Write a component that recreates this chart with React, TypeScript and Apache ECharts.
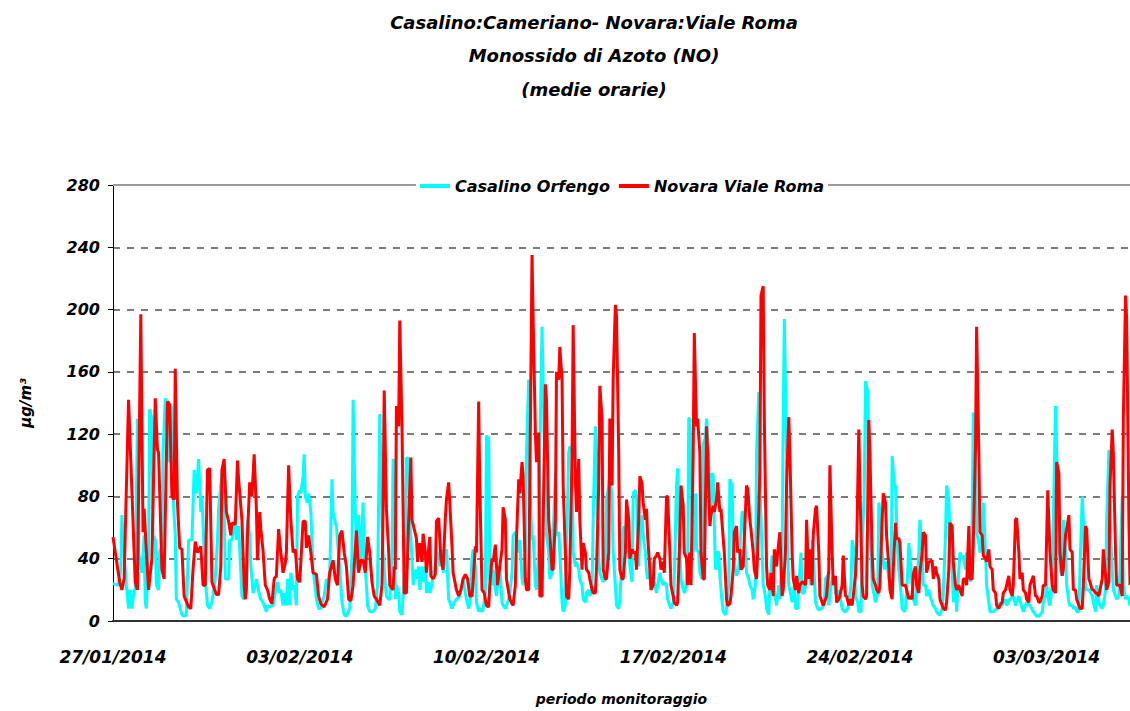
import React, { useEffect, useRef } from "react";
import * as echarts from "echarts";

const START_UTC = Date.UTC(2014, 0, 27);
const X_END_HOURS = 915;
const X_STEP_HOURS = 168;
const Y_MIN = 0;
const Y_MAX = 280;
const Y_STEP = 40;

const titleLines = [
  "Casalino:Cameriano- Novara:Viale Roma",
  "Monossido di Azoto (NO)",
  "(medie orarie)",
];
const xAxisName = "periodo monitoraggio";
const yAxisName = "µg/m³";
const seriesNames = ["Casalino Orfengo", "Novara Viale Roma"];

// [hours since 27/01/2014 00:00, µg/m³]
const casalino: [number, number][] = [
  [0,24],[5,23],[7,33],[8,68],[10,44],[12,23],[14,8],[15,20],[17,8],[19,20],[20,20],[22,130],[23,44],[26,31],[28,55],[29,12],[30,8],[32,44],[33,136],[35,130],[36,55],[38,52],[39,23],[41,20],[42,44],[44,48],[45,108],[47,143],[48,138],[50,102],[53,138],[54,80],[56,55],[57,14],[59,12],[62,4],[64,3],[66,4],[68,52],[71,52],[73,97],[75,82],[77,104],[79,70],[80,80],[83,27],[85,10],[87,8],[89,12],[92,27],[94,52],[95,72],[98,95],[100,76],[101,27],[104,27],[105,52],[107,52],[110,65],[111,52],[113,61],[116,16],[118,14],[119,20],
  [121,65],[123,55],[124,35],[126,18],[127,20],[129,27],[130,23],[132,16],[133,14],[135,12],[136,10],[138,6],[139,10],[141,9],[144,10],[146,18],[148,25],[150,18],[151,20],[153,10],[154,18],[156,10],[157,27],[159,10],[160,31],[162,20],[163,23],[165,10],[166,80],[168,84],[169,82],[171,93],[172,107],[173,80],[175,76],[176,82],[178,70],[180,33],[181,27],[183,14],[185,8],[187,8],[189,14],[190,16],[192,27],[193,23],[195,31],[197,91],[198,70],[200,63],[201,61],[204,33],[206,12],[208,4],[210,3],[213,8],[215,44],[216,142],[218,70],[220,33],[221,68],[223,35],[225,76],[226,44],[228,23],[229,10],[231,6],[234,6],[236,8],[238,23],[240,133],
  [242,65],[243,44],[245,23],[246,16],[248,14],[249,14],[251,44],[252,104],[253,102],[254,14],[255,23],[257,18],[258,6],[260,4],[261,16],[263,44],[264,105],[266,104],[267,65],[269,40],[270,23],[272,33],[273,27],[275,35],[276,20],[278,35],[279,25],[281,35],[282,18],[284,25],[285,18],[287,23],[288,31],[290,35],[291,42],[293,44],[294,35],[296,46],[297,31],[299,44],[300,46],[302,14],[303,12],[305,8],[307,12],[309,14],[312,16],[314,23],[315,27],[317,18],[318,14],[320,8],[321,12],[323,40],[324,46],[326,35],[327,12],[329,6],[330,8],[332,6],[333,8],[335,18],[336,119],[338,117],[339,27],[341,23],[342,33],[344,20],[345,16],[347,31],[348,35],[350,12],[351,10],[353,8],[354,10],[356,14],[357,18],[359,31],
  [360,55],[362,57],[363,55],[365,44],[366,52],[368,27],[369,23],[371,44],[372,108],[374,155],[375,87],[377,52],[378,55],[380,23],[381,20],[383,44],[384,108],[386,189],[387,151],[389,87],[390,55],[392,44],[393,27],[395,31],[396,55],[398,95],[399,55],[401,57],[402,44],[404,12],[405,6],[407,10],[408,44],[410,108],[411,112],[413,108],[414,44],[416,35],[417,38],[419,33],[420,27],[422,23],[423,14],[425,12],[426,18],[428,20],[429,16],[431,20],[432,65],[434,125],[435,108],[437,40],[438,31],[440,27],[441,25],[443,33],[444,78],[446,87],[447,97],[449,78],[450,44],[452,23],[453,10],[455,8],[456,14],[458,40],[459,61],[461,57],[462,55],[464,44],[465,35],[467,25],[468,82],[470,84],[471,80],[473,35],[474,55],[476,68],[477,55],[479,44],
  [480,32],[481,27],[483,31],[484,38],[486,23],[487,25],[489,18],[490,23],[492,31],[493,27],[495,23],[496,25],[498,23],[499,14],[501,10],[502,8],[504,12],[505,27],[507,87],[508,98],[509,65],[511,27],[512,23],[514,18],[515,20],[517,33],[518,130],[519,130],[521,65],[522,44],[524,82],[525,46],[527,44],[528,31],[530,27],[531,114],[533,118],[534,130],[536,104],[537,65],[539,95],[540,93],[542,33],[543,44],[545,44],[546,29],[548,12],[549,6],[551,4],[552,8],[554,23],[555,91],[557,87],[558,44],[560,33],[561,29],[563,33],[564,46],[566,70],[567,70],[569,44],[570,31],[572,27],[573,23],[575,20],[576,14],[578,23],[579,108],[581,147],[582,87],[584,44],[585,23],[587,16],[588,8],[590,4],[591,23],[593,42],[594,23],[596,14],[597,10],[599,23],
  [600,14],[602,44],[603,130],[604,194],[606,108],[607,44],[608,23],[610,16],[611,12],[613,23],[614,8],[616,8],[617,23],[619,44],[620,18],[622,18],[623,23],[625,31],[626,33],[628,23],[629,52],[631,29],[632,12],[634,8],[635,7],[637,8],[638,8],[640,12],[641,27],[643,29],[644,10],[646,23],[647,27],[649,29],[650,18],[652,14],[653,20],[655,12],[656,8],[658,6],[659,6],[661,8],[662,12],[664,23],[665,52],[667,44],[668,16],[670,12],[671,6],[673,6],[674,44],[676,87],[677,154],[679,147],[680,65],[682,44],[683,23],[685,16],[686,12],[688,18],[689,76],[691,65],[692,44],[694,33],[695,38],[697,33],[698,27],[700,23],[701,106],[703,87],[704,87],[706,44],[707,33],[709,18],[710,8],[712,6],[713,8],[715,31],[716,50],[718,33],[719,23],
  [720,14],[722,10],[723,23],[725,44],[726,65],[728,44],[729,23],[731,23],[732,16],[734,20],[735,16],[737,12],[738,10],[740,8],[741,6],[743,4],[744,4],[746,8],[747,18],[749,55],[750,87],[752,78],[753,53],[755,33],[756,12],[758,23],[759,6],[761,33],[762,44],[764,40],[765,42],[767,33],[768,44],[770,33],[771,25],[773,65],[774,134],[776,119],[777,57],[779,50],[780,44],[782,55],[783,76],[785,44],[786,23],[788,12],[789,6],[792,6],[795,8],[798,12],[800,10],[801,12],[803,14],[804,10],[807,14],[810,16],[812,10],[815,16],[818,8],[819,6],[822,12],[825,10],[828,6],[831,3],[833,3],
  [834,4],[836,6],[837,12],[839,16],[840,23],[842,12],[843,10],[845,23],[846,65],[848,138],[849,108],[851,55],[852,33],[854,29],[855,65],[857,44],[858,23],[860,12],[861,10],[863,10],[864,8],[866,9],[867,6],[869,6],[870,33],[872,80],[873,65],[875,20],[878,20],[881,16],[882,12],[884,6],[885,23],[887,12],[888,10],[890,8],[891,10],[893,20],[894,65],[896,110],[897,65],[899,33],[900,20],[902,16],[903,14],[905,16],[906,33],[908,80],[909,23],[911,14],[912,16],[914,14],[915,10],
];

const novara: [number, number][] = [
  [0,54],[6,25],[8,20],[10,27],[14,142],[20,25],[22,20],[25,197],[27,57],[28,72],[30,45],[32,20],[35,40],[38,143],[40,110],[41,108],[44,33],[46,27],[49,141],[51,139],[53,80],[55,78],[56,162],[58,76],[60,47],[62,46],[64,16],[68,9],[70,8],[72,33],[74,51],[76,44],[79,48],[81,23],[83,23],[85,97],[87,98],[89,25],[93,17],[95,17],[97,35],[98,97],[100,104],[102,70],[104,64],[106,55],[107,63],[110,62],[112,103],[113,91],[116,65],[118,23],[119,14],
  [120,20],[121,55],[123,89],[125,80],[127,107],[129,72],[130,39],[132,70],[133,59],[135,45],[137,23],[139,20],[141,14],[143,11],[145,27],[147,29],[149,59],[151,44],[153,31],[155,37],[156,44],[158,100],[160,65],[162,44],[164,46],[166,27],[168,25],[171,64],[173,64],[174,47],[176,55],[178,44],[180,31],[183,30],[185,16],[187,11],[190,9],[193,14],[195,31],[198,39],[200,27],[202,23],[204,55],[206,58],[208,44],[210,35],[212,14],[214,13],[216,23],[219,58],[221,31],[223,39],[225,39],[227,31],[229,54],[231,44],[233,25],[235,16],[237,14],
  [240,10],[242,23],[243,72],[244,148],[246,72],[248,45],[249,23],[252,20],[253,35],[254,33],[255,138],[257,125],[258,193],[260,125],[262,18],[264,18],[266,65],[268,105],[269,65],[271,59],[273,53],[274,38],[276,50],[278,38],[279,56],[281,44],[282,31],[285,54],[286,29],[288,27],[290,30],[291,64],[293,66],[295,40],[297,33],[299,66],[300,78],[302,89],[303,76],[305,48],[306,31],[309,20],[311,16],[313,20],[315,27],[317,30],[319,27],[321,16],[323,16],[324,25],[326,48],[327,44],[329,141],[330,87],[332,20],[334,18],[336,10],[338,9],[339,23],[341,40],[342,38],[344,49],[346,23],[348,35],[350,46],[351,73],[353,65],[354,27],[357,14],[359,11],
  [360,10],[362,23],[363,52],[365,91],[366,82],[368,102],[369,93],[371,27],[372,20],[374,20],[375,87],[377,235],[378,194],[380,121],[381,102],[383,121],[384,16],[386,16],[387,61],[389,152],[390,142],[392,65],[393,55],[395,33],[396,33],[398,65],[399,160],[401,155],[402,176],[404,155],[405,87],[407,44],[408,16],[410,14],[411,33],[413,106],[414,190],[416,91],[417,70],[419,104],[420,65],[422,33],[423,50],[425,44],[426,33],[428,31],[429,27],[431,20],[432,18],[434,18],[435,33],[437,87],[438,151],[440,130],[441,33],[443,27],[444,27],[446,44],[447,130],[449,87],[450,155],[452,203],[453,196],[455,108],[456,33],[458,27],[459,27],[461,44],[462,78],[464,65],[465,40],[467,46],[468,44],[470,44],[471,33],[473,65],[474,93],[476,88],[477,76],[479,65],
  [480,72],[481,55],[483,33],[484,20],[486,23],[487,40],[489,42],[490,44],[492,40],[493,33],[495,38],[496,31],[498,80],[499,80],[501,44],[502,23],[504,16],[505,12],[507,10],[508,12],[510,55],[511,87],[513,74],[514,44],[516,40],[517,23],[519,44],[520,23],[522,108],[523,185],[525,125],[526,130],[528,108],[529,44],[531,27],[532,27],[534,125],[535,108],[537,61],[538,68],[540,74],[541,70],[543,78],[544,89],[546,70],[547,72],[549,53],[550,44],[552,14],[553,10],[555,11],[556,16],[558,33],[559,57],[561,61],[562,44],[564,46],[565,33],[567,35],[568,53],[570,87],[571,85],[573,65],[574,59],[576,44],[577,33],[579,27],[580,44],[582,97],[583,209],[585,215],[586,130],[588,35],[589,23],[591,20],[592,31],[594,16],[595,46],[597,35],[598,44],
  [600,57],[602,16],[603,20],[605,44],[606,87],[608,131],[609,108],[611,44],[612,27],[614,20],[615,29],[617,18],[618,23],[620,25],[621,25],[623,23],[624,65],[626,27],[627,46],[629,23],[630,55],[632,72],[633,74],[635,44],[636,16],[638,12],[639,10],[641,14],[642,16],[644,33],[645,100],[647,44],[648,23],[650,29],[651,12],[653,14],[654,16],[656,23],[657,42],[659,16],[660,16],[662,10],[663,14],[665,10],[666,16],[668,29],[669,44],[671,123],[672,87],[674,23],[675,16],[677,14],[678,16],[680,129],[681,108],[683,44],[684,27],[686,23],[687,20],[689,18],[690,23],[692,65],[693,82],[695,76],[696,55],[698,35],[699,20],[701,14],[702,33],[704,63],[705,53],[707,53],[708,50],[710,23],[711,23],[713,23],[714,20],[716,14],[717,16],[719,14],
  [720,30],[722,35],[723,23],[725,18],[726,31],[728,44],[729,57],[731,55],[732,31],[734,38],[735,38],[737,39],[738,27],[740,35],[741,31],[743,27],[744,14],[746,10],[747,8],[749,7],[750,12],[752,33],[753,63],[755,61],[756,38],[758,23],[759,20],[761,23],[762,20],[764,16],[765,27],[767,27],[768,23],[770,61],[771,27],[773,27],[774,50],[776,112],[777,189],[779,108],[780,57],[782,55],[783,42],[785,40],[786,38],[788,46],[789,35],[791,33],[792,20],[794,18],[795,10],[797,8],[798,10],[800,12],[801,18],[803,20],[804,23],[806,29],[807,20],[809,16],[810,23],[812,65],[813,66],[815,44],[816,27],[818,31],[819,20],[821,18],[822,14],[824,12],[825,23],[827,27],[828,29],[830,16],[831,16],[833,12],
  [834,12],[836,16],[837,23],[839,23],[841,84],[843,44],[845,23],[846,20],[848,18],[849,102],[851,95],[852,44],[854,29],[855,33],[857,55],[858,59],[860,68],[861,46],[863,44],[864,20],[866,20],[867,14],[869,10],[870,8],[872,8],[873,23],[875,61],[876,59],[878,27],[879,25],[881,20],[882,20],[884,18],[885,18],[887,16],[888,20],[890,27],[891,46],[893,29],[894,20],[896,25],[897,87],[899,123],[900,108],[902,44],[903,23],[905,23],[906,23],[908,16],[909,130],[911,209],[912,194],[914,65],[915,23],
];

const FONT = "'DejaVu Sans', Verdana, sans-serif";

function formatDate(hours: number): string {
  const d = new Date(START_UTC + hours * 3600 * 1000);
  const dd = String(d.getUTCDate()).padStart(2, "0");
  const mm = String(d.getUTCMonth() + 1).padStart(2, "0");
  return `${dd}/${mm}/${d.getUTCFullYear()}`;
}

export default function App() {
  const ref = useRef<HTMLDivElement>(null);

  useEffect(() => {
    if (!ref.current) return;
    const chart = echarts.init(ref.current, undefined, { renderer: "svg" });
    const txt = {
      fontFamily: FONT,
      fontStyle: "italic" as const,
      fontWeight: "bold" as const,
      color: "#000",
    };
    chart.setOption({
      animation: false,
      backgroundColor: "#ffffff",
      textStyle: { fontFamily: FONT },
      graphic: titleLines.map((t, i) => ({
        type: "text",
        x: 594,
        y: 22 + i * 33.5,
        style: {
          text: t,
          font: `italic bold 18px ${FONT}`,
          fill: "#000",
          align: "center",
          verticalAlign: "middle",
        },
      })),
      legend: {
        data: seriesNames,
        left: 416,
        top: 177,
        z: 10,
        backgroundColor: "#ffffff",
        padding: [1, 4, 1, 4],
        icon: "rect",
        itemWidth: 30,
        itemHeight: 4,
        itemGap: 9,
        textStyle: { ...txt, fontSize: 16 },
      },
      grid: { left: 113, right: 0, top: 185, bottom: 89, containLabel: false },
      xAxis: {
        type: "value",
        min: 0,
        max: X_END_HOURS,
        interval: X_STEP_HOURS,
        name: xAxisName,
        nameLocation: "middle",
        nameGap: 71,
        nameTextStyle: { ...txt, fontSize: 14 },
        axisLine: { show: true, lineStyle: { color: "#333", width: 2 } },
        axisTick: { show: false },
        splitLine: { show: false },
        axisLabel: {
          ...txt,
          fontSize: 17,
          margin: 27,
          showMaxLabel: false,
          formatter: (v: number) => (v % X_STEP_HOURS === 0 ? formatDate(v) : ""),
        },
      },
      yAxis: {
        type: "value",
        min: Y_MIN,
        max: Y_MAX,
        interval: Y_STEP,
        name: yAxisName,
        nameLocation: "middle",
        nameGap: 80,
        nameTextStyle: { ...txt, fontSize: 15 },
        axisLine: { show: true, lineStyle: { color: "#000", width: 1 } },
        axisTick: { show: true, inside: false, length: 5, lineStyle: { color: "#000" } },
        axisLabel: { ...txt, fontSize: 16, margin: 13 },
        splitLine: {
          show: true,
          lineStyle: { color: "#505050", width: 1.5, type: [7, 7] },
        },
      },
      series: [
        {
          name: seriesNames[0],
          type: "line",
          data: casalino,
          showSymbol: false,
          symbol: "none",
          color: "#00FFFF",
          lineStyle: { color: "#00FFFF", width: 3 },
          z: 2,
        },
        {
          name: seriesNames[1],
          type: "line",
          data: novara,
          showSymbol: false,
          symbol: "none",
          color: "#FF0000",
          lineStyle: { color: "#FF0000", width: 3 },
          z: 3,
          markLine: {
            silent: true,
            z: 1,
            symbol: "none",
            label: { show: false },
            lineStyle: { color: "#9a9a9a", type: "solid", width: 2 },
            data: [{ yAxis: Y_MAX }],
          },
        },
      ],
    });
    return () => chart.dispose();
  }, []);

  return (
    <div
      ref={ref}
      style={{ position: "fixed", left: 0, top: 0, width: 1130, height: 711, background: "#fff" }}
    />
  );
}
